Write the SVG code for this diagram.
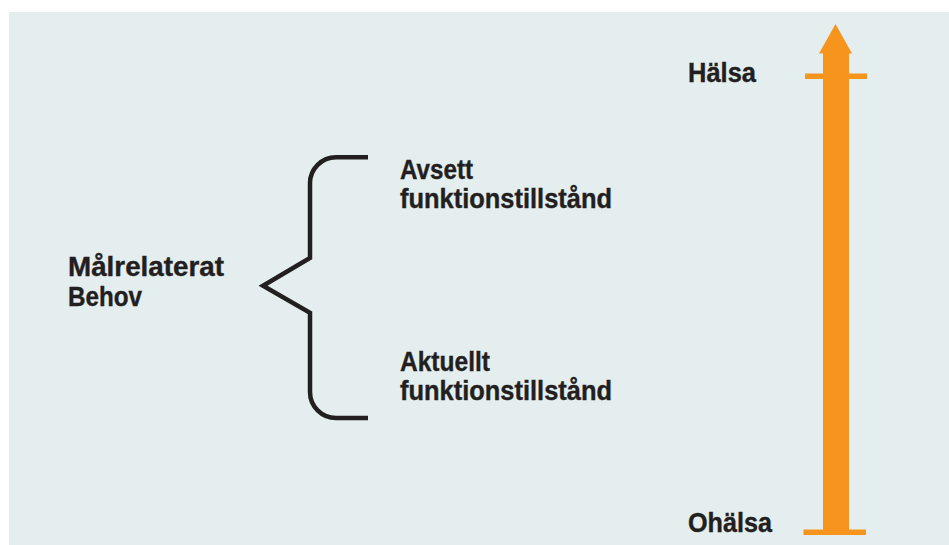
<svg xmlns="http://www.w3.org/2000/svg" width="949" height="545" viewBox="0 0 949 545">
<style>
.t{font-family:"Liberation Sans","DejaVu Sans",Arial,sans-serif;font-weight:bold;font-size:28px;fill:#231F20;stroke:#231F20;stroke-width:0.4}
.o{fill:#F7941D}
.br{fill:none;stroke:#231F20;stroke-width:4.5;stroke-linejoin:miter}
</style>
<rect x="0" y="0" width="949" height="545" fill="#FFFFFF"/>
<rect x="9" y="12" width="940" height="533" fill="#E5EEEF"/>
<g id="connectors">
<path class="br" d="M368,157.3 H336 A26,26 0 0 0 310,183.3 V258 L263,285.7 L310,312.7 V392 A26,26 0 0 0 336,418 H368"/>
</g>
<g id="arrow">
<polygon class="o" points="835.5,24 819,53.5 852,53.5"/>
<rect class="o" x="823" y="53" width="26" height="480"/>
<rect class="o" x="805" y="73.5" width="62" height="5.5"/>
<rect class="o" x="803.5" y="529.5" width="62.5" height="5.5"/>
</g>
<g id="halsa"><text class="t" x="688" y="82" textLength="68" lengthAdjust="spacingAndGlyphs">Hälsa</text></g>
<g id="ohalsa"><text class="t" x="688" y="532" textLength="84" lengthAdjust="spacingAndGlyphs">Ohälsa</text></g>
<g id="malrelaterat"><text class="t" x="68" y="276" textLength="156" lengthAdjust="spacingAndGlyphs">Målrelaterat</text><text class="t" x="68" y="306" textLength="74" lengthAdjust="spacingAndGlyphs">Behov</text></g>
<g id="avsett"><text class="t" x="400" y="179" textLength="73" lengthAdjust="spacingAndGlyphs">Avsett</text><text class="t" x="400" y="208" textLength="212" lengthAdjust="spacingAndGlyphs">funktionstillstånd</text></g>
<g id="aktuellt"><text class="t" x="400" y="371" textLength="90" lengthAdjust="spacingAndGlyphs">Aktuellt</text><text class="t" x="400" y="400" textLength="212" lengthAdjust="spacingAndGlyphs">funktionstillstånd</text></g>
</svg>
